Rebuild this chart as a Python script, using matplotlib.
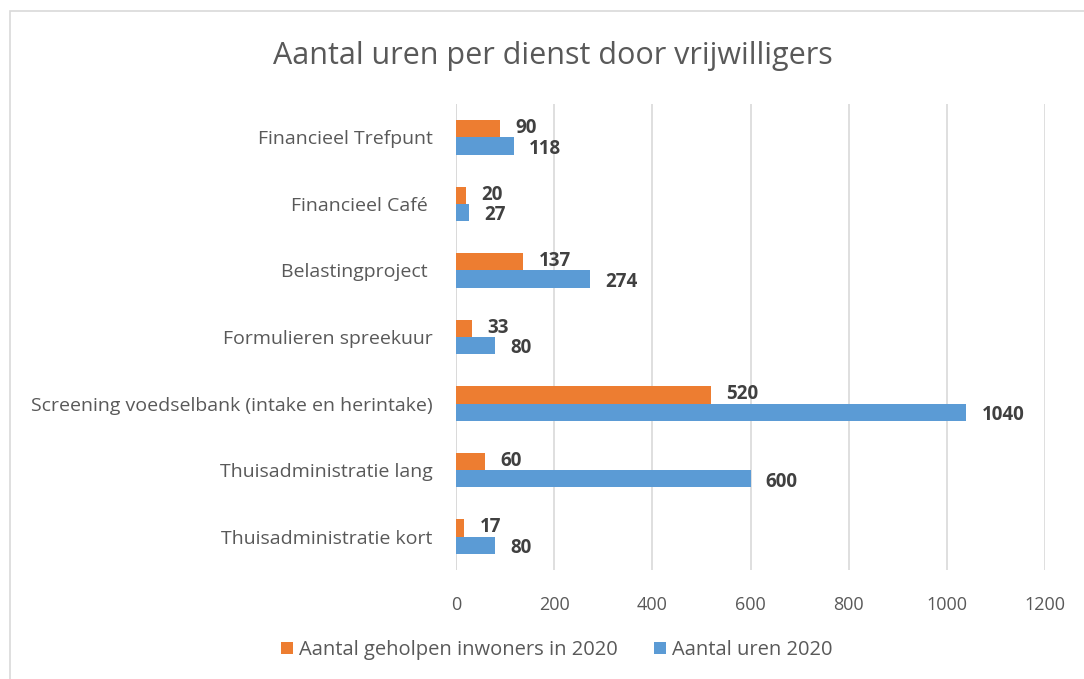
import matplotlib.pyplot as plt
from matplotlib.patches import Rectangle
import numpy as np

categories = ['Financieel Trefpunt', 'Financieel Café ', 'Belastingproject ',
              'Formulieren spreekuur', 'Screening voedselbank (intake en herintake)',
              'Thuisadministratie lang', 'Thuisadministratie kort']
inwoners = [90, 20, 137, 33, 520, 60, 17]
uren = [118, 27, 274, 80, 1040, 600, 80]
xticks = [0, 200, 400, 600, 800, 1000, 1200]

orange = '#ED7D31'
blue = '#5B9BD5'
grey = '#595959'

plt.rcParams['font.family'] = ['Open Sans', 'DejaVu Sans']

fig = plt.figure(figsize=(10.84, 6.79), dpi=100)
ax = fig.add_axes([456 / 1084, 1 - 570 / 679, 589 / 1084, 466 / 679])

# outer frame like the excel chart border
fig.patches.append(Rectangle((10 / 1084, -0.1), 1.2, 1 - 11 / 679 + 0.1,
                             transform=fig.transFigure, fill=False,
                             edgecolor='#d9d9d9', linewidth=1.2))

y = np.arange(len(categories))
h = 0.26
b1 = ax.barh(y - h / 2, inwoners, height=h, color=orange, label='Aantal geholpen inwoners in 2020')
b2 = ax.barh(y + h / 2, uren, height=h, color=blue, label='Aantal uren 2020')

for bars, dy in ((b1, 0.5), (b2, -2)):
    for r in bars:
        ax.annotate(str(int(r.get_width())), (r.get_width(), r.get_y() + r.get_height() / 2),
                    xytext=(11, dy), textcoords='offset points', ha='left', va='center',
                    fontsize=13.5, fontweight='bold', color='#404040')

ax.set_xlim(0, 1200)
ax.set_ylim(len(categories) - 0.5, -0.5)
ax.set_xticks(xticks)
ax.set_yticks(y)
ax.set_yticklabels(categories)
ax.tick_params(axis='both', length=0, labelsize=14, labelcolor=grey)
ax.tick_params(axis='y', pad=17)
ax.tick_params(axis='x', labelsize=13, pad=19)
ax.xaxis.grid(True, color='#d9d9d9', linewidth=1.2)
ax.set_axisbelow(True)
for s in ax.spines.values():
    s.set_visible(False)
ax.axvline(0, color='#d9d9d9', linewidth=1.2, zorder=0)

fig.text(553 / 1084, 1 - 56 / 679, 'Aantal uren per dienst door vrijwilligers',
         ha='center', va='center', fontsize=22, color=grey)

fig.legend(handles=[b1, b2], loc='center', bbox_to_anchor=(557 / 1084, 1 - 650 / 679),
           ncol=2, frameon=False, fontsize=14.5, labelcolor=grey, handlelength=0.6,
           handleheight=0.6, handletextpad=0.3, columnspacing=1.8)

fig.savefig('out.png', dpi=100)
